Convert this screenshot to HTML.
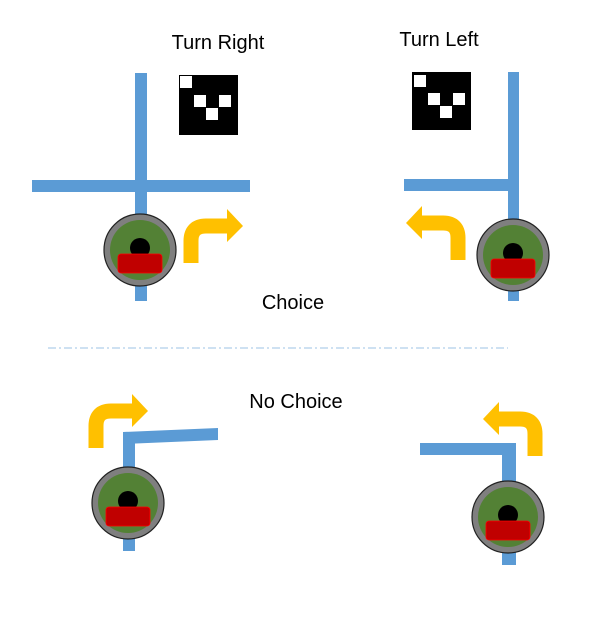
<!DOCTYPE html>
<html><head><meta charset="utf-8"><style>
html,body{margin:0;padding:0;background:#fff}
svg{display:block}
text{font-family:"Liberation Sans",sans-serif;font-size:20px;fill:#000}
</style></head><body>
<svg width="604" height="619" viewBox="0 0 604 619">
<defs>
<g id="robot">
<circle r="36" fill="#7f7f7f" stroke="#222" stroke-width="1.2"/>
<circle r="30" fill="#538135"/>
<circle cy="-2" r="10" fill="#000"/>
<rect x="-22" y="4" width="44" height="19" rx="3" fill="#c00000" stroke="#f00" stroke-width="0.8"/>
</g>
<g id="arrow-r">
<path d="M0,0 V-22 Q0,-37 15,-37 H37" fill="none" stroke="#ffc000" stroke-width="15"/>
<polygon points="36,-54 52,-37 36,-21" fill="#ffc000"/>
</g>
</defs>

<text x="218" y="49" text-anchor="middle">Turn Right</text>
<text x="439" y="46" text-anchor="middle">Turn Left</text>
<text x="293" y="309" text-anchor="middle">Choice</text>
<text x="296" y="408" text-anchor="middle">No Choice</text>

<line x1="48" y1="348" x2="508" y2="348" stroke="#9dc3e6" stroke-width="1" stroke-dasharray="8,3,2,3"/>

<g>
<rect x="135" y="73" width="12" height="228" fill="#5b9bd5"/>
<rect x="32" y="180" width="218" height="12" fill="#5b9bd5"/>
<g>
<rect x="179" y="75" width="59" height="60" fill="#000"/>
<rect x="180" y="76" width="12" height="12" fill="#fff"/>
<rect x="194" y="95" width="12" height="12" fill="#fff"/>
<rect x="219" y="95" width="12" height="12" fill="#fff"/>
<rect x="206" y="108" width="12" height="12" fill="#fff"/>
</g>
<use href="#robot" x="140" y="250"/>
<use href="#arrow-r" x="191" y="263"/>
</g>

<g>
<rect x="508" y="72" width="11" height="229" fill="#5b9bd5"/>
<rect x="404" y="179" width="115" height="12" fill="#5b9bd5"/>
<g>
<rect x="412" y="72" width="59" height="58" fill="#000"/>
<rect x="414" y="75" width="12" height="12" fill="#fff"/>
<rect x="428" y="93" width="12" height="12" fill="#fff"/>
<rect x="453" y="93" width="12" height="12" fill="#fff"/>
<rect x="440" y="106" width="12" height="12" fill="#fff"/>
</g>
<use href="#robot" x="513" y="255"/>
<use href="#arrow-r" transform="translate(458,260) scale(-1,1)"/>
</g>

<g>
<rect x="123" y="433" width="12" height="118" fill="#5b9bd5"/>
<polygon points="123,432 218,428 218,440 123,444" fill="#5b9bd5"/>
<use href="#robot" x="128" y="503"/>
<use href="#arrow-r" x="96" y="448"/>
</g>

<g>
<rect x="420" y="443" width="96" height="12" fill="#5b9bd5"/>
<rect x="502" y="443" width="14" height="122" fill="#5b9bd5"/>
<use href="#robot" x="508" y="517"/>
<use href="#arrow-r" transform="translate(535,456) scale(-1,1)"/>
</g>
</svg>
</body></html>
